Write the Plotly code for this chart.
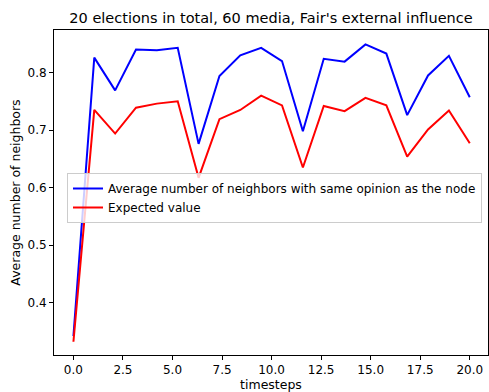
import numpy as np
import plotly.graph_objects as go

timesteps = list(np.linspace(0, 20, 20))
same_opinion = [0.342, 0.826, 0.769, 0.840, 0.839, 0.843, 0.676, 0.794, 0.830, 0.843,
                0.820, 0.698, 0.824, 0.819, 0.849, 0.833, 0.726, 0.795, 0.829, 0.757]
expected = [0.332, 0.735, 0.694, 0.739, 0.746, 0.750, 0.617, 0.719, 0.735, 0.760,
            0.743, 0.635, 0.742, 0.733, 0.756, 0.743, 0.654, 0.701, 0.734, 0.677]

font = "DejaVu Sans"
fig = go.Figure()
fig.add_trace(go.Scatter(x=timesteps, y=same_opinion, mode="lines",
                         line=dict(color="blue", width=2),
                         name="Average number of neighbors with same opinion as the node"))
fig.add_trace(go.Scatter(x=timesteps, y=expected, mode="lines",
                         line=dict(color="red", width=2),
                         name="Expected value"))

fig.update_layout(
    width=489, height=392,
    margin=dict(l=54, r=1, t=30, b=37),
    paper_bgcolor="white", plot_bgcolor="white",
    font=dict(family=font, size=12, color="black"),
    title=dict(text="20 elections in total, 60 media, Fair's external influence",
               x=271 / 489, xanchor="center", y=1 - 18 / 392, yanchor="middle",
               font=dict(size=14.5, family=font, color="black")),
    xaxis=dict(range=[-0.98, 20.92], tickvals=[0, 2.5, 5, 7.5, 10, 12.5, 15, 17.5, 20],
               ticktext=["0.0", "2.5", "5.0", "7.5", "10.0", "12.5", "15.0", "17.5", "20.0"],
               ticks="outside", ticklen=4, tickcolor="black", tickwidth=1,
               showline=True, linecolor="black", linewidth=1, mirror=True,
               showgrid=False, zeroline=False,
               tickfont=dict(size=12),
               title=dict(text="timesteps", font=dict(size=12.5), standoff=5)),
    yaxis=dict(range=[0.309, 0.874], tickvals=[0.4, 0.5, 0.6, 0.7, 0.8],
               ticktext=["0.4", "0.5", "0.6", "0.7", "0.8"],
               ticks="outside", ticklen=4, tickcolor="black", tickwidth=1,
               showline=True, linecolor="black", linewidth=1, mirror=True,
               showgrid=False, zeroline=False,
               tickfont=dict(size=12),
               title=dict(text="Average number of neighbors", font=dict(size=12.5), standoff=4)),
    legend=dict(x=(67 - 54) / 434, y=1 - (173 - 30) / 325, xanchor="left", yanchor="top",
                bgcolor="rgba(255,255,255,0.8)", bordercolor="#cccccc", borderwidth=1,
                font=dict(size=12), tracegroupgap=0),
    showlegend=True,
)

fig.write_html("out.html")
